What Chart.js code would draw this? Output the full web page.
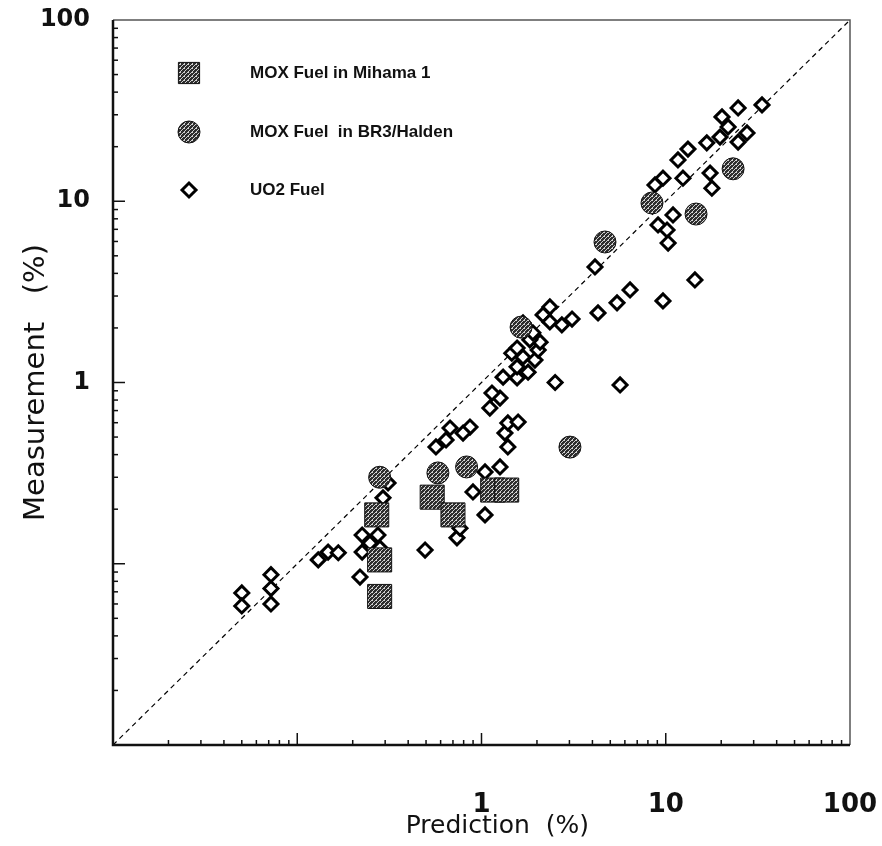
<!DOCTYPE html>
<html>
<head>
<meta charset="utf-8">
<script src="https://cdn.jsdelivr.net/npm/chart.js@4.4.0/dist/chart.umd.min.js"></script>
<style>
  html, body { margin: 0; padding: 0; background: #fff; }
  #wrap { width: 882px; height: 846px; }
</style>
</head>
<body>
<div id="wrap"><canvas id="myChart" width="882" height="846"></canvas></div>
<script>
const mihamaPred = [0.27, 0.28, 0.28, 0.54, 0.70, 1.15, 1.37];
const mihamaMeas = [0.186, 0.105, 0.066, 0.233, 0.186, 0.255, 0.255];

const br3Pred = [0.28, 0.58, 0.83, 1.64, 3.02, 4.68, 8.42, 14.6, 23.2];
const br3Meas = [0.30, 0.317, 0.342, 2.02, 0.44, 5.96, 9.78, 8.5, 15.1];

const uo2Pred = [0.050, 0.050, 0.072, 0.072, 0.072, 0.130, 0.147, 0.167, 0.219, 0.225,
    0.274, 0.248, 0.225, 0.311, 0.292, 0.281, 0.494, 0.736, 0.764, 0.566,
    0.642, 0.675, 0.866, 0.794, 1.045, 1.26, 0.899, 1.045, 1.39, 1.34,
    1.39, 1.58, 1.11, 1.26, 1.14, 1.31, 1.56, 1.79, 1.56, 1.95,
    1.68, 1.46, 1.56, 2.03, 2.08, 1.83, 1.90, 1.68, 2.35, 2.16,
    2.35, 2.73, 3.10, 2.51, 4.29, 5.44, 6.40, 9.66, 5.65, 4.13,
    33.3, 24.7, 20.2, 21.8, 27.6, 24.7, 19.7, 16.7, 13.2, 11.65,
    9.66, 8.74, 12.4, 17.4, 17.8, 10.95, 9.08, 10.16, 10.3, 14.4];
const uo2Meas = [0.069, 0.0585, 0.087, 0.073, 0.060, 0.105, 0.116, 0.115, 0.0845, 0.144,
    0.144, 0.130, 0.116, 0.279, 0.231, 0.122, 0.119, 0.139, 0.157, 0.441,
    0.482, 0.561, 0.568, 0.526, 0.321, 0.342, 0.249, 0.186, 0.441, 0.526,
    0.598, 0.605, 0.723, 0.821, 0.875, 1.07, 1.06, 1.14, 1.22, 1.33,
    1.38, 1.45, 1.55, 1.51, 1.67, 1.72, 1.88, 2.13, 2.61, 2.36,
    2.16, 2.08, 2.24, 1.00, 2.42, 2.75, 3.24, 2.82, 0.969, 4.34,
    34.0, 32.7, 29.2, 25.7, 23.8, 21.2, 22.6, 21.0, 19.4, 16.9,
    13.4, 12.3, 13.4, 14.3, 11.8, 8.40, 7.40, 6.94, 5.88, 3.68];

const diagX = [0.01, 100];
const diagY = [0.01, 100];

const xTickVals = [1, 10, 100];
const xTickLabels = ['1', '10', '100'];
const yTickVals = [1, 10, 100];
const yTickLabels = ['1', '10', '100'];

const seriesNames = ['MOX Fuel in Mihama 1', 'MOX Fuel  in BR3/Halden', 'UO2 Fuel'];

function toPoints(xs, ys) {
    return xs.map((x, i) => ({ x: x, y: ys[i] }));
}

// dark halftone fill like the printed markers
function hatch() {
    const c = document.createElement('canvas');
    c.width = 4; c.height = 4;
    const g = c.getContext('2d');
    g.fillStyle = '#2e2e2e';
    g.fillRect(0, 0, 4, 4);
    g.fillStyle = '#d0d0d0';
    g.fillRect(0, 3, 1, 1);
    g.fillRect(1, 2, 1, 1);
    g.fillRect(2, 1, 1, 1);
    g.fillRect(3, 0, 1, 1);
    g.fillRect(0, 0, 1, 1);
    return g.createPattern(c, 'repeat');
}
const fill = hatch();

// inward tick marks and the box around the plot
const frameTicks = {
    id: 'frameTicks',
    afterDatasetsDraw(chart) {
        const ctx = chart.ctx;
        const a = chart.chartArea;
        const xs = chart.scales.x, ys = chart.scales.y;
        ctx.save();
        ctx.strokeStyle = '#111';
        ctx.lineWidth = 1.5;
        for (let d = 0.01; d < 99; d *= 10) {
            for (let m = 1; m <= 9; m++) {
                const v = d * m;
                if (v <= 0.0100001) continue;
                const len = m === 1 ? 12 : 5;
                const px = xs.getPixelForValue(v);
                ctx.beginPath();
                ctx.moveTo(px, a.bottom);
                ctx.lineTo(px, a.bottom - len);
                ctx.stroke();
                const py = ys.getPixelForValue(v);
                ctx.beginPath();
                ctx.moveTo(a.left, py);
                ctx.lineTo(a.left + len, py);
                ctx.stroke();
            }
        }
        // top and right edges are lighter in the print
        ctx.strokeStyle = '#555';
        ctx.lineWidth = 1.5;
        ctx.beginPath();
        ctx.moveTo(a.left, a.top);
        ctx.lineTo(a.right, a.top);
        ctx.lineTo(a.right, a.bottom);
        ctx.stroke();
        ctx.strokeStyle = '#111';
        ctx.lineWidth = 2.5;
        ctx.beginPath();
        ctx.moveTo(a.left, a.top);
        ctx.lineTo(a.left, a.bottom);
        ctx.lineTo(a.right, a.bottom);
        ctx.stroke();
        ctx.restore();
    }
};

// legend placed inside the plot, top left
const innerLegend = {
    id: 'innerLegend',
    afterDraw(chart) {
        const ctx = chart.ctx;
        const rows = [73, 132, 190];
        ctx.save();
        for (let i = 0; i < 3; i++) {
            const ds = chart.data.datasets[i];
            const opts = {
                pointStyle: ds.pointStyle,
                radius: i === 0 ? 15 : ds.pointRadius,
                rotation: 0,
                borderWidth: ds.borderWidth
            };
            ctx.fillStyle = ds.backgroundColor;
            ctx.strokeStyle = ds.borderColor;
            ctx.lineWidth = ds.borderWidth;
            Chart.helpers.drawPoint(ctx, opts, 189, rows[i]);
            ctx.fillStyle = '#111';
            ctx.font = 'bold 17px "Liberation Sans", Arial, sans-serif';
            ctx.textBaseline = 'middle';
            ctx.textAlign = 'left';
            ctx.fillText(seriesNames[i], 250, rows[i]);
        }
        ctx.restore();
    }
};

const myChart = new Chart('myChart', {
    type: 'scatter',
    data: {
        datasets: [{
            label: seriesNames[0],
            data: toPoints(mihamaPred, mihamaMeas),
            pointStyle: 'rect',
            pointRadius: 17,
            backgroundColor: fill,
            borderColor: '#111',
            borderWidth: 1
        }, {
            label: seriesNames[1],
            data: toPoints(br3Pred, br3Meas),
            pointStyle: 'circle',
            pointRadius: 11,
            backgroundColor: fill,
            borderColor: '#111',
            borderWidth: 1
        }, {
            label: seriesNames[2],
            data: toPoints(uo2Pred, uo2Meas),
            pointStyle: 'rectRot',
            pointRadius: 7,
            backgroundColor: '#fff',
            borderColor: '#000',
            borderWidth: 3
        }, {
            type: 'line',
            label: 'y = x',
            data: toPoints(diagX, diagY),
            borderColor: '#000',
            borderWidth: 1.2,
            borderDash: [5, 4],
            pointRadius: 0
        }]
    },
    options: {
        responsive: false,
        animation: false,
        layout: { padding: { top: 20, right: 32, left: 0, bottom: 0 } },
        plugins: {
            legend: { display: false },
            tooltip: { enabled: false }
        },
        scales: {
            x: {
                type: 'logarithmic',
                min: 0.01,
                max: 100,
                afterBuildTicks: s => { s.ticks = xTickVals.map(v => ({ value: v })); },
                afterFit: s => {
                    s.height = 101;
                    s.paddingLeft = 0;
                    s.paddingRight = 0;
                },
                grid: { display: false, drawTicks: false },
                border: { display: false },
                ticks: {
                    padding: 45,
                    autoSkip: false,
                    maxRotation: 0,
                    color: '#111',
                    font: { family: '"DejaVu Sans"', size: 26, weight: 'bold' },
                    callback: (v, i) => xTickLabels[i]
                },
                title: {
                    display: true,
                    text: '\u00a0\u00a0\u00a0\u00a0Prediction  (%)',
                    color: '#111',
                    font: { family: '"DejaVu Sans"', size: 25 },
                    padding: { top: 0, bottom: 5 }
                }
            },
            y: {
                type: 'logarithmic',
                min: 0.01,
                max: 100,
                afterBuildTicks: s => { s.ticks = yTickVals.map(v => ({ value: v })); },
                afterFit: s => {
                    s.width = 113;
                    s.paddingTop = 0;
                    s.paddingBottom = 0;
                },
                grid: { display: false, drawTicks: false },
                border: { display: false },
                ticks: {
                    padding: 23,
                    autoSkip: false,
                    color: '#111',
                    font: { family: '"DejaVu Sans"', size: 24, weight: 'bold' },
                    callback: (v, i) => yTickLabels[i]
                },
                title: {
                    display: true,
                    text: 'Measurement   (%)',
                    color: '#111',
                    font: { family: '"DejaVu Sans"', size: 29 },
                    padding: { top: 19, bottom: 0 }
                }
            }
        }
    },
    plugins: [frameTicks, innerLegend]
});
</script>
</body>
</html>
